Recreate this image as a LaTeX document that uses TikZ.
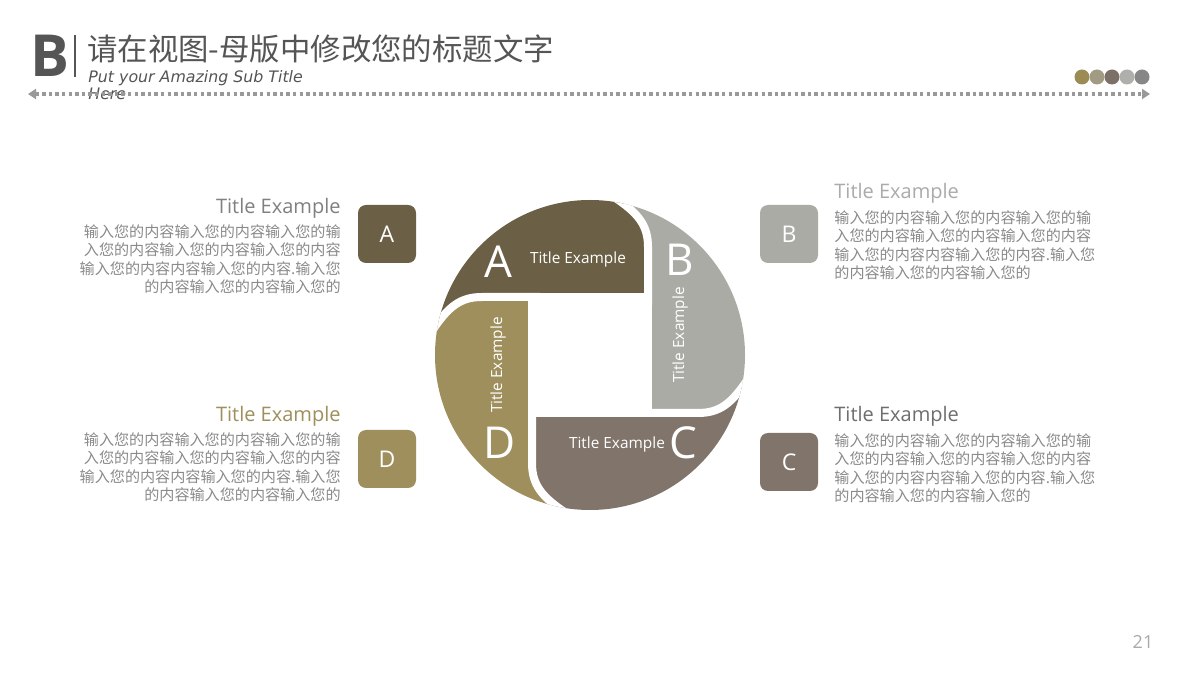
\documentclass[tikz,border=0pt]{standalone}
\usepackage{fontspec}
\setmainfont{Open Sans}
\newfontfamily\cjk{Noto Sans CJK SC}
\newfontfamily\hand{DejaVu Sans}
\usetikzlibrary{arrows.meta}
\definecolor{cA}{HTML}{6B6046}
\definecolor{cB}{HTML}{ABABA6}
\definecolor{cC}{HTML}{80746B}
\definecolor{cD}{HTML}{9E8F5C}
\definecolor{txt}{HTML}{8A8A8A}
\definecolor{dark}{HTML}{555555}
\definecolor{dotc}{HTML}{999999}
\begin{document}
\begin{tikzpicture}[x=0.5pt,y=-0.5pt,
  box/.style={rounded corners=4pt, minimum width=29pt, minimum height=29pt, inner sep=0pt, text=white, font=\fontsize{11.5}{12}\selectfont},
  body/.style={inner sep=0pt, text=txt, font=\cjk\fontsize{7.55}{9.25}\selectfont},
  side/.style={inner sep=0pt, font=\fontsize{10}{12}\selectfont},
  big/.style={text=white, inner sep=0pt, font=\fontsize{22}{24}\selectfont},
  lab/.style={text=white, inner sep=0pt, font=\fontsize{7.7}{9}\selectfont},
  gap/.style={white, line width=4pt},
  dotline/.style={dotc, line width=1.7pt, dash pattern=on 1.7pt off 1.6pt, {Triangle[length=4pt,width=5pt]}-{Triangle[length=4pt,width=5pt]}},
]
\useasboundingbox (0,0) rectangle (1200,673);
\fill[white] (0,0) rectangle (1200,673);

% header
\node[inner sep=0pt, text=dark, font=\bfseries\fontsize{29}{30}\selectfont] (logo) at (50,56) {B};
\coordinate (bar1) at (75,35);
\coordinate (bar2) at (75,77);
\draw[dark, line width=0.7pt] (bar1) -- (bar2);
\node[anchor=west, inner sep=0pt, text=dark, font=\cjk\fontsize{15.2}{17}\selectfont] (title) at (87,49) {请在视图-母版中修改您的标题文字};
\node[anchor=north west, align=left, inner sep=0pt, text=dark, font=\hand\itshape\fontsize{7.9}{8.5}\selectfont] (sub) at (88,70) {Put your Amazing Sub Title\\Here};
\coordinate (dl) at (28,94);
\coordinate (dr) at (1150,94);
\draw[dotline] (dl) -- (dr);
\foreach \xx/\cc [count=\i] in {1082/9B8C55,1097/A09B82,1112/7D7066,1127/AFAFAC,1142/878787}{
  \definecolor{tmp}{HTML}{\cc}
  \fill[tmp] (\xx,77) circle (7.5);
}

% pinwheel
\begin{scope}[shift={(590,355)}, yscale=-1]
  \clip (0,0) circle (155);
  \foreach \ang/\col in {0/cA,-90/cD,-180/cC,-270/cB}{
    \fill[\col, rotate=\ang] (58,58) -- (58,108) .. controls (58,130) and (48,142) .. (24,158) -- (2,176) -- (2,400) -- (-400,400) -- (-400,2) -- (-176,2) -- (-158,24) .. controls (-142,48) and (-130,58) .. (-108,58) -- cycle;
  }
  \fill[white] (-62,-62) rectangle (62,62);
  \foreach \ang in {0,-90,-180,-270}{
    \draw[gap, rotate=\ang] (58,50) -- (58,108) .. controls (58,130) and (48,142) .. (24,158) -- (2,176);
  }
\end{scope}

\node[big] (LA) at (498,262) {A};
\node[lab] (TA) at (578,260) {Title Example};
\node[big] (LB) at (680,260) {B};
\node[lab, rotate=90] (TB) at (680,335) {Title Example};
\node[lab, rotate=90] (TD) at (498,365) {Title Example};
\node[big] (LD) at (500,443) {D};
\node[lab] (TC) at (617,445) {Title Example};
\node[big] (LC) at (683,443) {C};

% boxes
\node[box, fill=cA] (boxA) at (387,234) {A};
\node[box, fill=cD] (boxD) at (387,459) {D};
\node[box, fill=cB] (boxB) at (789,234) {B};
\node[box, fill=cC] (boxC) at (789,462) {C};

% side texts
\node[side, anchor=east] (sA) at (341,208) {\textcolor[HTML]{808080}{Title Example}};
\node[body, anchor=north east, align=right] (bA) at (341,224) {输入您的内容输入您的内容输入您的输\\入您的内容输入您的内容输入您的内容\\输入您的内容内容输入您的内容.输入您\\的内容输入您的内容输入您的};
\node[side, anchor=east, text=cD] (sD) at (341,416) {Title Example};
\node[body, anchor=north east, align=right] (bD) at (341,432) {输入您的内容输入您的内容输入您的输\\入您的内容输入您的内容输入您的内容\\输入您的内容内容输入您的内容.输入您\\的内容输入您的内容输入您的};
\node[side, anchor=west] (sB) at (834,193) {\textcolor[HTML]{ABABAB}{Title Example}};
\node[body, anchor=north west, align=left] (bB) at (834,210) {输入您的内容输入您的内容输入您的输\\入您的内容输入您的内容输入您的内容\\输入您的内容内容输入您的内容.输入您\\的内容输入您的内容输入您的};
\node[side, anchor=west] (sC) at (834,416) {\textcolor[HTML]{6E6E6E}{Title Example}};
\node[body, anchor=north west, align=left] (bC) at (834,433) {输入您的内容输入您的内容输入您的输\\入您的内容输入您的内容输入您的内容\\输入您的内容内容输入您的内容.输入您\\的内容输入您的内容输入您的};

\node[inner sep=0pt, font=\fontsize{9}{10}\selectfont] (pg) at (1143,642) {\textcolor[HTML]{AAAAAA}{21}};
\end{tikzpicture}
\end{document}
